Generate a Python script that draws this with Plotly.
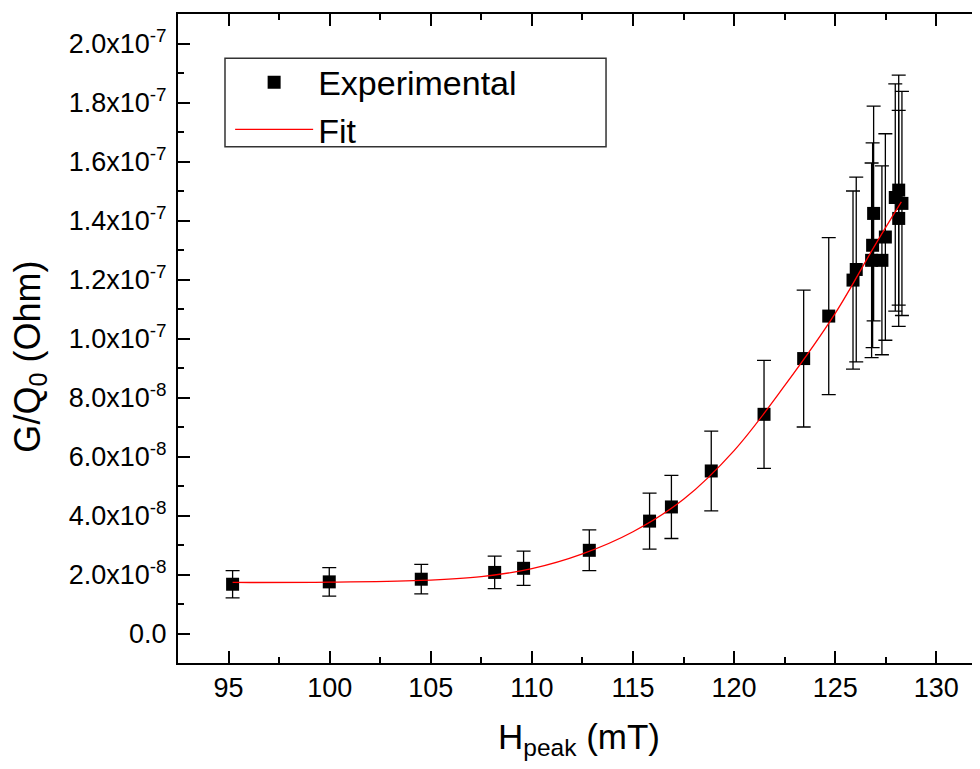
import plotly.graph_objects as go

# Experimental data (H_peak in mT, G/Q0 in Ohm)
h_peak = [95.2, 99.98, 104.53, 108.16, 109.59, 112.84, 115.82, 116.9, 118.87,
          121.48, 123.44, 124.68, 125.88, 126.04, 126.85, 126.9, 126.8, 127.31,
          127.48, 127.97, 128.14, 128.3, 128.14]
gq0_e8 = [1.67, 1.75, 1.84, 2.07, 2.21, 2.82, 3.81, 4.29, 5.51,
          7.43, 9.32, 10.76, 11.98, 12.34, 13.16, 14.24, 12.65, 12.65,
          13.44, 14.78, 15.03, 14.58, 14.07]
err_e8 = [0.46, 0.48, 0.5, 0.55, 0.58, 0.69, 0.95, 1.07, 1.35,
          1.83, 2.32, 2.66, 3.02, 3.13, 3.47, 3.64, 3.3, 3.2,
          3.5, 3.85, 3.9, 3.8, 3.66]

# Fit curve
fit_h = [95.2, 100, 104.5, 107.5, 110, 112.5, 115, 117.5, 120, 122.5, 125, 127, 128.27]
fit_e8 = [1.73, 1.74, 1.80, 1.93, 2.2, 2.7, 3.45, 4.55, 6.2, 8.4, 10.85, 13.2, 14.63]

# Axis ticks
y_tick_vals = [0, 2e-8, 4e-8, 6e-8, 8e-8, 1e-7, 1.2e-7, 1.4e-7, 1.6e-7, 1.8e-7, 2e-7]
y_tick_text = ["0.0"] + [f"{m}x10<sup>{e}</sup>" for m, e in
                         [("2.0", -8), ("4.0", -8), ("6.0", -8), ("8.0", -8),
                          ("1.0", -7), ("1.2", -7), ("1.4", -7), ("1.6", -7),
                          ("1.8", -7), ("2.0", -7)]]

scale = 1e-8
gq0 = [v * scale for v in gq0_e8]
err = [v * scale for v in err_e8]
fit_y = [v * scale for v in fit_e8]

FONT = "Liberation Sans, Arial, sans-serif"

fig = go.Figure()
fig.add_trace(go.Scatter(
    x=h_peak, y=gq0, mode="markers", name="Experimental",
    marker=dict(symbol="square", size=13, color="black"),
    error_y=dict(type="data", array=err, visible=True, color="black",
                 thickness=1.3, width=7),
))
fig.add_trace(go.Scatter(
    x=fit_h, y=fit_y, mode="lines", name="Fit",
    line=dict(color="#ff0000", width=1.3, shape="spline"),
))

axis_common = dict(showgrid=False, zeroline=False, linecolor="black", linewidth=2,
                   ticks="inside", tickcolor="black", tickwidth=2, ticklen=12,
                   automargin=False,
                   tickfont=dict(family=FONT, size=27, color="black"))

# legend frame (decoration)
fig.add_shape(type="rect", xref="paper", yref="paper",
              x0=0.0586, x1=0.5337, y0=0.7953, y1=0.9317,
              line=dict(color="#333333", width=1.5), fillcolor="white", layer="below")

# y-axis title (placed as annotation to match the reference's vertical position)
fig.add_annotation(text="G/Q<sub>0</sub> (Ohm)", xref="paper", yref="paper",
                   x=-0.185, y=0.4715, xanchor="center", yanchor="middle",
                   textangle=-90, showarrow=False,
                   font=dict(family=FONT, size=36, color="black"))

# The page body adds an 8px offset, so the figure is 972x753 to fill the 980x769 window.
fig.update_layout(
    width=972, height=753,
    margin=dict(l=170, r=0, t=6, b=98),
    paper_bgcolor="white", plot_bgcolor="white",
    font=dict(family=FONT, color="black"),
    xaxis=dict(range=[92.5, 132.16], dtick=5, tick0=95, showline=True, mirror="ticks",
               minor=dict(ticks="inside", dtick=2.5, tick0=95, ticklen=6,
                          tickwidth=2, tickcolor="black"),
               title=dict(text="H<sub>peak</sub> (mT)", font=dict(family=FONT, size=35),
                          standoff=24),
               **axis_common),
    yaxis=dict(range=[-1e-8, 2.1e-7], tickmode="array", tickvals=y_tick_vals,
               ticktext=y_tick_text, showline=True,
               minor=dict(ticks="inside", tickmode="linear", dtick=1e-8, tick0=0, ticklen=6,
                          tickwidth=2, tickcolor="black"),
               ticklabelstandoff=4,
               **axis_common),
    yaxis2=dict(overlaying="y", side="right", anchor="x", matches="y",
                range=[-1e-8, 2.1e-7], tickmode="array", tickvals=y_tick_vals,
                showticklabels=False, showline=False, showgrid=False, zeroline=False,
                ticks="inside", tickcolor="black", tickwidth=2, ticklen=12,
                minor=dict(ticks="inside", tickmode="linear", dtick=1e-8, tick0=0, ticklen=6,
                           tickwidth=2, tickcolor="black")),
    legend=dict(x=0.065, y=0.939, xanchor="left", yanchor="top",
                borderwidth=0, bgcolor="rgba(0,0,0,0)",
                font=dict(family=FONT, size=34, color="black"),
                itemwidth=78, tracegroupgap=0),
    showlegend=True,
)

fig.write_html("out.html")
